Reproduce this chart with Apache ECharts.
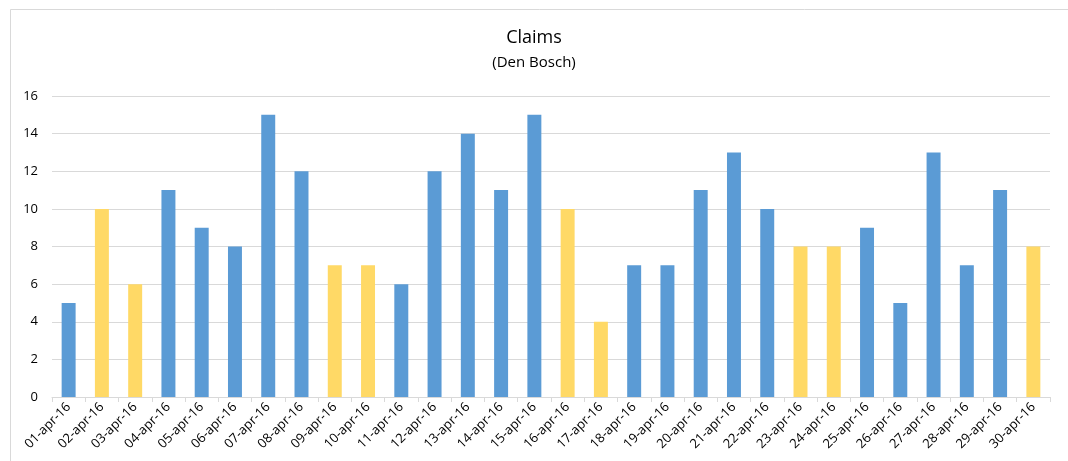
<!DOCTYPE html>
<html>
<head>
<meta charset="utf-8">
<script src="https://cdn.jsdelivr.net/npm/echarts@6/dist/echarts.min.js"></script>
<style>
  html, body { margin: 0; padding: 0; background: #fff; }
  #chart { width: 1068px; height: 461px; }
</style>
</head>
<body>
<div id="chart"></div>
<script>
// Daily claims for April 2016
const days = [
  '01-apr-16','02-apr-16','03-apr-16','04-apr-16','05-apr-16','06-apr-16','07-apr-16','08-apr-16','09-apr-16','10-apr-16',
  '11-apr-16','12-apr-16','13-apr-16','14-apr-16','15-apr-16','16-apr-16','17-apr-16','18-apr-16','19-apr-16','20-apr-16',
  '21-apr-16','22-apr-16','23-apr-16','24-apr-16','25-apr-16','26-apr-16','27-apr-16','28-apr-16','29-apr-16','30-apr-16'
];
const claims = [5, 10, 6, 11, 9, 8, 15, 12, 7, 7, 6, 12, 14, 11, 15, 10, 4, 7, 7, 11, 13, 10, 8, 8, 9, 5, 13, 7, 11, 8];
// weekend days are highlighted
const weekend = [false, true, true, false, false, false, false, false, true, true,
  false, false, false, false, false, true, true, false, false, false,
  false, false, true, true, false, false, false, false, false, true];

const weekdayColor = '#5B9BD5';
const weekendColor = '#FFD966';

const chart = echarts.init(document.getElementById('chart'));
chart.setOption({
  animation: false,
  backgroundColor: '#fff',
  textStyle: { fontFamily: 'Open Sans, sans-serif' },
  title: {
    text: 'Claims',
    subtext: '(Den Bosch)',
    left: 'center',
    top: 24,
    itemGap: 8,
    textStyle: { fontSize: 18, fontWeight: 'normal', color: '#000', fontFamily: 'Open Sans, sans-serif' },
    subtextStyle: { fontSize: 15, color: '#000', fontFamily: 'Open Sans, sans-serif' }
  },
  graphic: [{
    type: 'rect',
    left: 8, top: 7,
    shape: { width: 1200, height: 600 },
    style: { fill: 'none', stroke: '#d9d9d9', lineWidth: 1 },
    silent: true,
    z: -1
  }],
  grid: { left: 52, right: 18, top: 96, bottom: 64 },
  xAxis: {
    type: 'category',
    data: days,
    axisLine: { lineStyle: { color: '#d9d9d9' } },
    axisTick: { show: true, length: 5, lineStyle: { color: '#d9d9d9' } },
    axisLabel: { rotate: 45, color: '#000', fontSize: 13, margin: 8, interval: 0 }
  },
  yAxis: {
    type: 'value',
    min: 0, max: 16, interval: 2,
    axisLine: { show: false },
    axisTick: { show: false },
    axisLabel: { color: '#000', fontSize: 13, margin: 14 },
    splitLine: { lineStyle: { color: '#d9d9d9' } }
  },
  series: [{
    type: 'bar',
    barWidth: '42%',
    data: claims.map((v, i) => ({
      value: v,
      itemStyle: { color: weekend[i] ? weekendColor : weekdayColor }
    }))
  }]
});
</script>
</body>
</html>
